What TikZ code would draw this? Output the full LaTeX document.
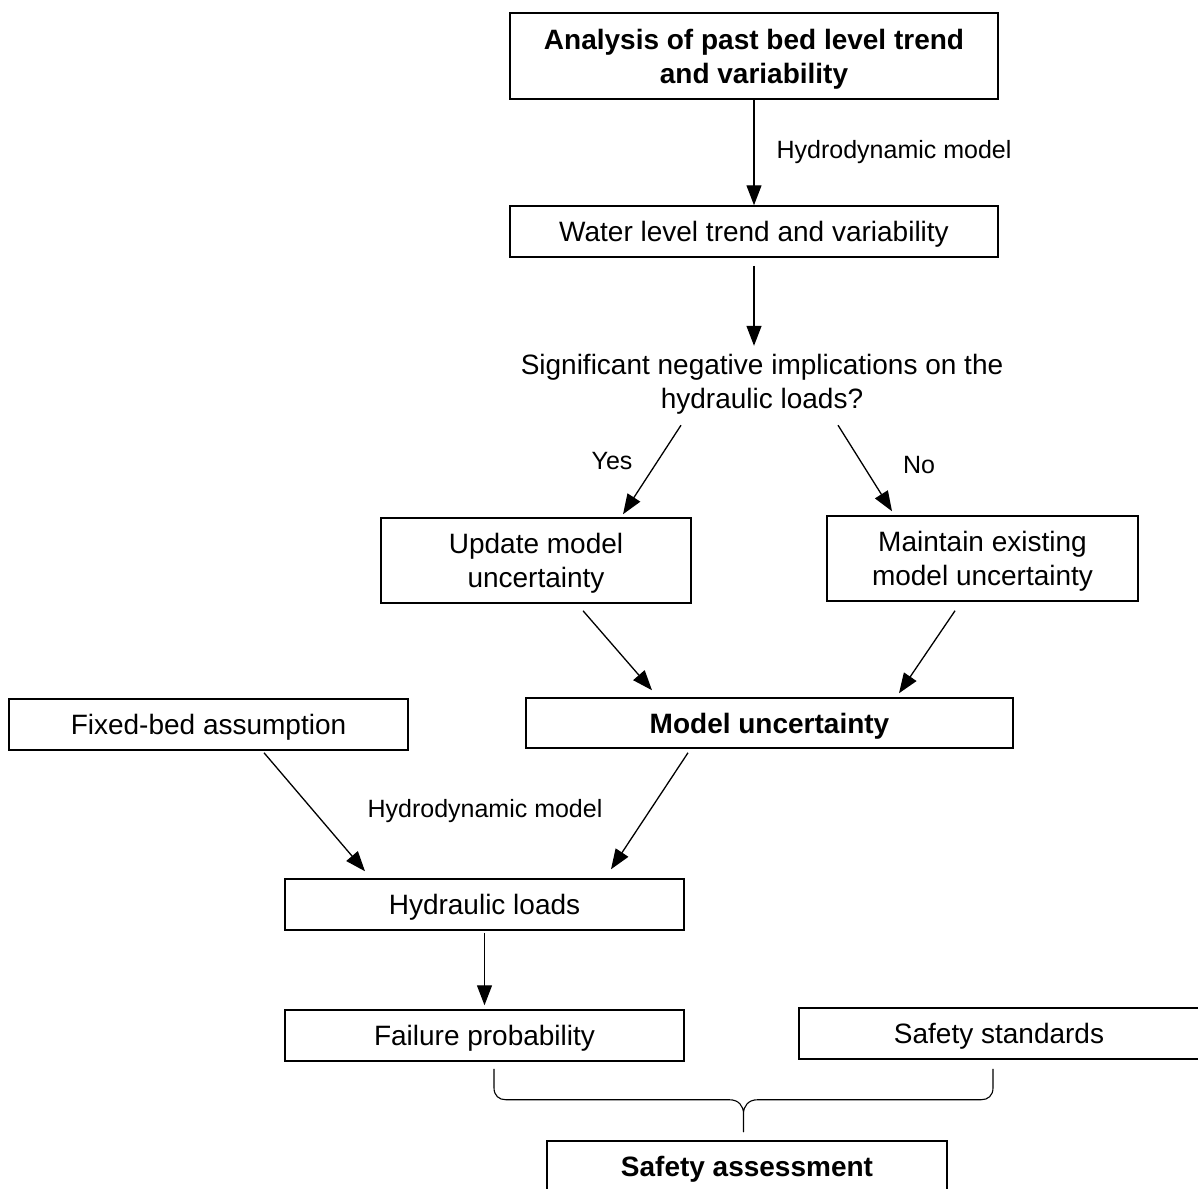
\documentclass[tikz,border=0pt]{standalone}
\usepackage{fontspec}
\setmainfont{Liberation Sans}
\usetikzlibrary{calc}
\usetikzlibrary{positioning}
\usetikzlibrary{arrows.meta}
\tikzstyle{box} = [rectangle,
draw=black, line width=1.5pt,
align=center, inner sep=0pt,
text depth=0pt] % lowers the text a bit
\tikzstyle{bold} = [font=\fontsize{28}{34}\selectfont\bfseries]
\tikzstyle{lbl} = [inner sep=0pt, font=\fontsize{25}{30}\selectfont]
\tikzstyle{arrow} = [line width=1.3pt, -{Triangle[length=20pt,width=15pt]}]
\tikzstyle{bracel} = [line width=1.1pt, line join=round]

\begin{document}
\begin{tikzpicture}[x=1pt, y=-1pt, font=\fontsize{28}{34}\selectfont] % one unit = one pixel
\useasboundingbox (0,0) rectangle (1198,1188);
\clip (0,0) rectangle (1198,1188);

\node[box, bold, minimum width=488, minimum height=86] (analysis) at (754,56) {Analysis of past bed level trend\\and variability};
\node[box, minimum width=488, minimum height=51] (water) at (754,231.5) {Water level trend and variability};
\node[inner sep=0pt, align=center, text depth=0pt, minimum height=70] (question) at (762,381) {Significant negative implications on the\\hydraulic loads?};
\node[box, minimum width=310, minimum height=85] (update) at (536,560.5) {Update model\\uncertainty};
\node[box, minimum width=311, minimum height=85] (maintain) at (982.5,558.5) {Maintain existing\\model uncertainty};
\node[box, bold, minimum width=487, minimum height=50] (model) at (769.5,723) {Model uncertainty};
\node[box, minimum width=399, minimum height=51] (fixed) at (208.5,724.5) {Fixed-bed assumption};
\node[box, minimum width=399, minimum height=51] (hydraulic) at (484.5,904.5) {Hydraulic loads};
\node[box, minimum width=399, minimum height=51] (failure) at (484.5,1035.5) {Failure probability};
\node[box, minimum width=400, minimum height=51] (standards) at (999,1033.5) {Safety standards};
\node[box, bold, minimum width=400, minimum height=51] (assessment) at (747,1166.5) {Safety assessment};

\node[lbl] (yes) at (612,461) {Yes};
\node[lbl] (no) at (919,465) {No};
\node[lbl] (hydro) at (485,811) {Hydrodynamic model};

\draw[arrow] (analysis) -- node[lbl, right=22pt] (hydrotop) {Hydrodynamic model} (water);
\draw[arrow, shorten <=8pt] (water.south) -- (water.south |- question.north);
\draw[arrow] ($(question.south)+(-81,9)$) -- ($(update.north)+(87,-3)$);
\draw[arrow] ($(question.south)+(76,9)$) -- ($(maintain.north)+(-90.5,-4)$);
\draw[arrow] ($(update.south)+(47,7)$) -- ($(model.north)+(-117.5,-7)$);
\draw[arrow] ($(maintain.south)+(-27.5,9)$) -- ($(model.north)+(129.5,-4)$);
\draw[arrow] ($(fixed.south)+(55.5,2)$) -- ($(hydraulic.north)+(-119.5,-7)$);
\draw[arrow] ($(model.south)+(-81.5,4)$) -- ($(hydraulic.north)+(126.5,-9)$);
\draw[arrow] ($(hydraulic.south)+(0,2)$) -- ($(failure.north)+(0,-4)$);

% brace joining the two results
\coordinate (bl) at ($(failure.south)+(9.5,7)$);
\coordinate (br) at ($(standards.south)+(-6,9)$);
\coordinate (tip) at ($(bl)!0.5!(br)+(0,63)$);
\draw[bracel] (bl) -- ++(0,19) .. controls +(0,8) and +(-7,0) .. ++(12,12)
  -- ($(tip)+(-14,-32)$) .. controls +(9,0) and +(0,-8) .. ($(tip)+(0,-18)$) -- (tip)
  -- ($(tip)+(0,-18)$) .. controls +(0,-8) and +(-9,0) .. ($(tip)+(14,-32)$)
  -- ($(br)+(-12,31)$) .. controls +(7,0) and +(0,8) .. ($(br)+(0,19)$) -- (br);
\end{tikzpicture}
\end{document}
